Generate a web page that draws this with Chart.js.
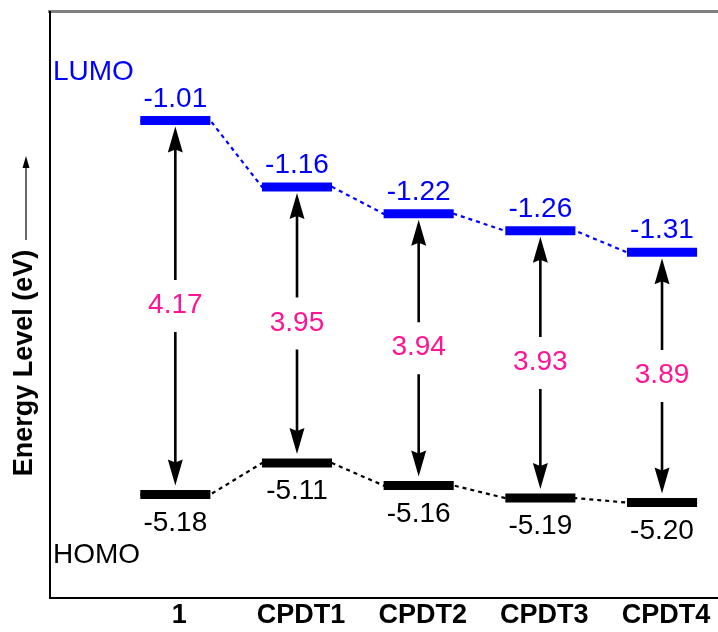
<!DOCTYPE html>
<html>
<head>
<meta charset="utf-8">
<script src="https://cdn.jsdelivr.net/npm/chart.js@4.4.1/dist/chart.umd.min.js"></script>
<style>
  html, body { margin: 0; padding: 0; background: #fff; }
  #wrap { width: 718px; height: 632px; position: relative; }
</style>
</head>
<body>
<div id="wrap"><canvas id="chart"></canvas></div>
<script>
const compounds = ["1", "CPDT1", "CPDT2", "CPDT3", "CPDT4"];
// printed energies (eV)
const lumoEnergy = [-1.01, -1.16, -1.22, -1.26, -1.31];
const homoEnergy = [-5.18, -5.11, -5.16, -5.19, -5.20];
const gapEnergy = [4.17, 3.95, 3.94, 3.93, 3.89];
// the diagram is schematic: heights at which the levels are drawn
const lumoDrawn = [-1.01, -1.75, -2.05, -2.24, -2.48];
const homoDrawn = [-5.18, -4.83, -5.08, -5.22, -5.27];

const BLUE = "#0000ff";
const PINK = "#ff1493";
const FONT = "'Liberation Sans', Arial, sans-serif";
const HALF = 0.288;

const levelSet = (vals, color) => vals.map((y, i) => ({
    data: [{ x: i + 1 - HALF, y }, { x: i + 1 + HALF, y }],
    borderColor: color,
    borderWidth: 9,
    borderCapStyle: "butt",
    pointRadius: 0,
    showLine: true
}));

const linkSet = (vals, color) => ({
    data: vals.flatMap((y, i) => [{ x: i + 1 - HALF, y }, { x: i + 1 + HALF, y }]),
    borderColor: color,
    borderWidth: 2.2,
    borderDash: [4, 4],
    pointRadius: 0,
    showLine: true
});

function arrowHead(ctx, x, tip, dir) {
    // dir = 1 points down, -1 points up
    ctx.beginPath();
    ctx.moveTo(x, tip);
    ctx.lineTo(x - 7.5, tip - dir * 26);
    ctx.lineTo(x, tip - dir * 23);
    ctx.lineTo(x + 7.5, tip - dir * 26);
    ctx.closePath();
    ctx.fill();
}

const diagram = {
    id: "diagram",
    afterDraw(chart) {
        const { ctx, chartArea: a, scales: { x, y } } = chart;
        ctx.save();

        // frame
        ctx.fillStyle = "#808080";
        ctx.fillRect(a.left - 2, a.top - 2, chart.width - a.left + 2, 3);
        ctx.fillStyle = "#000";
        ctx.fillRect(a.left - 1, a.top - 1, 2, a.bottom - a.top + 1);
        ctx.fillRect(a.left - 1, a.bottom - 1, chart.width - a.left + 1, 2);

        // gap arrows and labels
        ctx.strokeStyle = "#000";
        ctx.lineWidth = 2.6;
        compounds.forEach((c, i) => {
            const px = x.getPixelForValue(i + 1);
            const top = y.getPixelForValue(lumoDrawn[i]) + 6;
            const bot = y.getPixelForValue(homoDrawn[i]) - 9;
            const mid = (top + bot) / 2;
            ctx.beginPath();
            ctx.moveTo(px, top + 20); ctx.lineTo(px, mid - 26);
            ctx.moveTo(px, mid + 26); ctx.lineTo(px, bot - 20);
            ctx.stroke();
            arrowHead(ctx, px, top, -1);
            arrowHead(ctx, px, bot, 1);
        });

        ctx.font = `28px ${FONT}`;
        ctx.textAlign = "center";
        ctx.textBaseline = "middle";
        ctx.fillStyle = PINK;
        gapEnergy.forEach((g, i) => {
            const px = x.getPixelForValue(i + 1);
            const mid = (y.getPixelForValue(lumoDrawn[i]) + y.getPixelForValue(homoDrawn[i])) / 2;
            ctx.fillText(g.toFixed(2), px, mid - 2);
        });

        // level values
        ctx.textBaseline = "alphabetic";
        lumoEnergy.forEach((v, i) => {
            ctx.fillStyle = BLUE;
            ctx.fillText(v.toFixed(2), x.getPixelForValue(i + 1), y.getPixelForValue(lumoDrawn[i]) - 14);
            ctx.fillStyle = "#000";
            ctx.fillText(homoEnergy[i].toFixed(2), x.getPixelForValue(i + 1), y.getPixelForValue(homoDrawn[i]) + 36);
        });

        // LUMO / HOMO tags
        ctx.textAlign = "left";
        ctx.fillStyle = BLUE;
        ctx.fillText("LUMO", a.left + 3, 80);
        ctx.fillStyle = "#000";
        ctx.fillText("HOMO", a.left + 3, 563);

        // category labels
        ctx.font = `bold 27px ${FONT}`;
        ctx.textAlign = "center";
        compounds.forEach((c, i) => ctx.fillText(c, x.getPixelForValue(i + 1) + 4, a.bottom + 25));

        // y title with arrow
        ctx.save();
        ctx.translate(32, 363);
        ctx.rotate(-Math.PI / 2);
        ctx.fillText("Energy Level (eV)", 0, 0);
        ctx.restore();
        ctx.lineWidth = 1.2;
        ctx.beginPath(); ctx.moveTo(26, 240); ctx.lineTo(26, 165); ctx.stroke();
        ctx.beginPath();
        ctx.moveTo(26, 156); ctx.lineTo(22.5, 168); ctx.lineTo(29.5, 168); ctx.closePath();
        ctx.fill();

        ctx.restore();
    }
};

new Chart(document.getElementById("chart"), {
    type: "scatter",
    data: {
        datasets: [
            ...levelSet(lumoDrawn, BLUE),
            ...levelSet(homoDrawn, "#000"),
            linkSet(lumoDrawn, BLUE),
            linkSet(homoDrawn, "#000")
        ]
    },
    options: {
        responsive: true,
        maintainAspectRatio: false,
        animation: false,
        layout: { padding: { left: 50, top: 12, right: 0, bottom: 34 } },
        plugins: { legend: { display: false }, tooltip: { enabled: false } },
        scales: {
            x: { type: "linear", min: -0.03, max: 5.46, display: false },
            y: { type: "linear", min: -6.334, max: 0.2, display: false }
        }
    },
    plugins: [diagram]
});
</script>
</body>
</html>
